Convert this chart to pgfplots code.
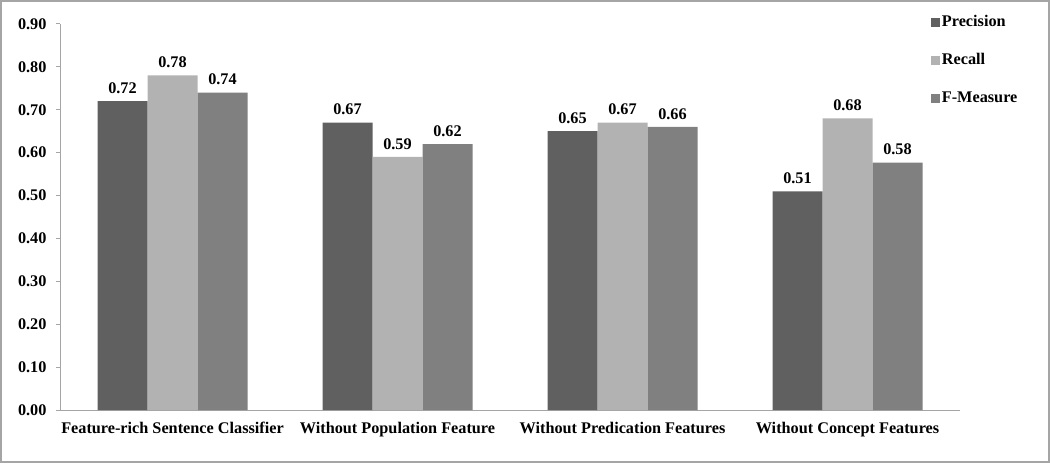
\documentclass[border=0pt]{standalone}
\usepackage{pgfplots}
\pgfplotsset{compat=1.18}
\usepackage{pgfplotstable}
\usepackage{fontspec}
\setmainfont{Liberation Serif}

\definecolor{cprec}{RGB}{96,96,96}
\definecolor{crec}{RGB}{178,178,178}
\definecolor{cfm}{RGB}{128,128,128}
\definecolor{cline}{RGB}{165,165,165}

\pgfplotstableread{
x prec rec fm
0 0.72 0.78 0.74
1 0.67 0.59 0.62
2 0.65 0.67 0.66
3 0.51 0.68 0.577
}\scores

\begin{document}
\begin{tikzpicture}[font=\fontsize{16.3}{19}\selectfont\bfseries]
\begin{axis}[
  name=main,
  scale only axis,
  width=900bp, height=386bp,
  ybar=0pt,
  bar width=50bp,
  xmin=-0.5, xmax=3.5,
  ymin=0, ymax=0.9,
  ytick={0,0.1,...,0.9},
  xtick={0,1,2,3},
  xticklabels={Feature-rich Sentence Classifier, Without Population Feature,
               Without Predication Features, Without Concept Features},
  major x tick style={draw=none},
  extra x ticks={-0.5,0.5,1.5,2.5,3.5},
  extra x tick labels={},
  extra x tick style={major tick length=5bp, tick style={draw=cline, line width=1bp}},
  xticklabel style={yshift=-5bp},
  yticklabel style={xshift=-6bp},
  /pgf/number format/fixed,
  /pgf/number format/fixed zerofill,
  /pgf/number format/precision=2,
  /pgf/number format/assume math mode=true,
  tick align=outside,
  major tick length=4bp,
  tick style={draw=cline, line width=1bp},
  axis x line*=bottom,
  axis y line*=left,
  axis line style={cline, line width=1bp},
  nodes near coords,
  every node near coord/.append style={yshift=4bp},
  legend style={draw=none, fill=none, at={(0.968,1.027)}, anchor=north west,
    row sep=22.5bp, inner sep=0pt, nodes={inner sep=1.5bp}},
  legend cell align=left,
  legend image code/.code={\fill[#1] (0bp,-5bp) rectangle (9bp,4bp);},
  clip=false,
]
\addplot[draw=none, fill=cprec] table[x=x, y=prec] {\scores};
\addlegendentry{Precision}
\addplot[draw=none, fill=crec] table[x=x, y=rec] {\scores};
\addlegendentry{Recall}
\addplot[draw=none, fill=cfm] table[x=x, y=fm] {\scores};
\addlegendentry{F-Measure}
\end{axis}
\draw[cline, line width=2bp]
  ([xshift=-59bp, yshift=-52bp]main.south west) rectangle
  ([xshift=89bp, yshift=23bp]main.north east);
\end{tikzpicture}
\end{document}
